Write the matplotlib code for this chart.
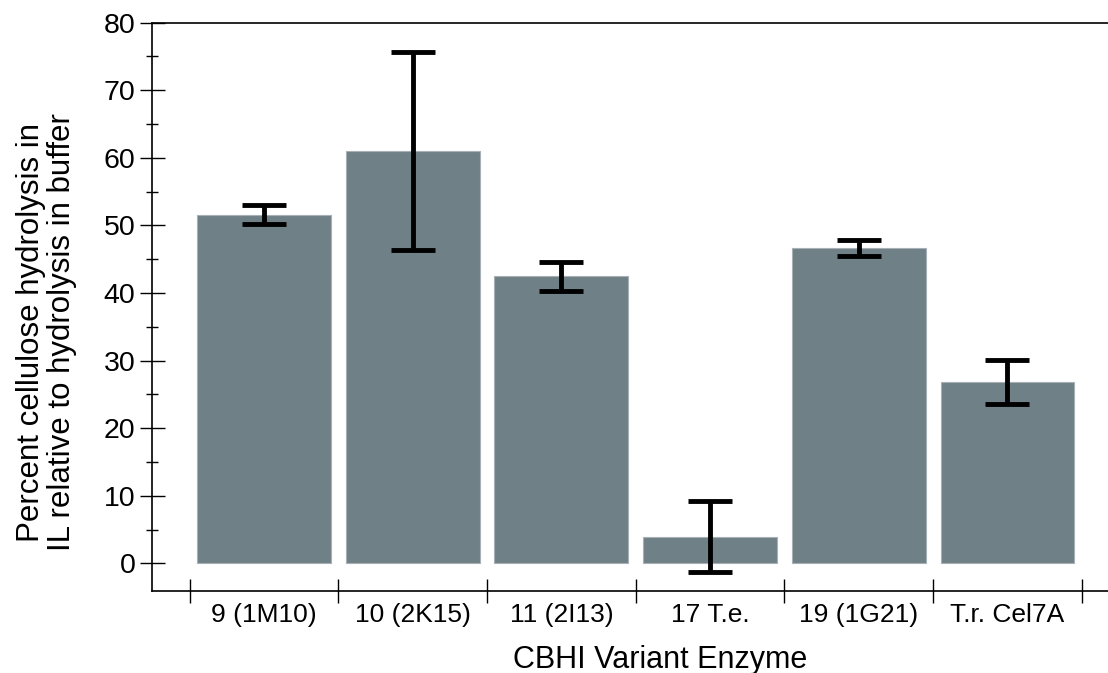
import matplotlib
matplotlib.use("Agg")
import matplotlib.pyplot as plt
import numpy as np
from matplotlib.ticker import MultipleLocator, FixedLocator

categories = ["9 (1M10)", "10 (2K15)", "11 (2I13)", "17 T.e.", "19 (1G21)", "T.r. Cel7A"]
values = [51.6, 61.0, 42.5, 3.9, 46.7, 26.8]
errors = [1.4, 14.7, 2.15, 5.25, 1.2, 3.25]

plt.rcParams['font.family'] = ['Liberation Sans', 'DejaVu Sans']

fig = plt.figure(figsize=(11.08, 6.73), dpi=100)
ax = fig.add_axes([152/1108, 1-590.7/673, 1-152/1108, (590.7-22.7)/673])

x = np.arange(len(categories))
ax.bar(x, values, width=0.9, color='#6f8086', edgecolor='#a7b1b5', linewidth=0.8, zorder=2)
ax.errorbar(x, values, yerr=errors, fmt='none', ecolor='black', elinewidth=3.5,
            capsize=16, capthick=3.5, zorder=3)

ax.set_xlim(-0.753, 5.676)
ax.set_ylim(-4.05, 80)

ax.spines['right'].set_visible(False)
for s in ['left', 'bottom', 'top']:
    ax.spines[s].set_linewidth(1.2)
    ax.spines[s].set_color('black')

ax.set_xticks(x)
ax.set_xticklabels(categories, fontsize=19)
ax.xaxis.set_minor_locator(FixedLocator(np.arange(-0.5, len(categories), 1.0)))
ax.tick_params(axis='x', which='major', length=0, pad=9)
ax.tick_params(axis='x', which='minor', direction='inout', length=17, width=1)

ax.yaxis.set_major_locator(MultipleLocator(10))
ax.yaxis.set_minor_locator(MultipleLocator(5))
ax.tick_params(axis='y', which='major', direction='inout', length=18, width=1, labelsize=20.5, pad=3)
ax.tick_params(axis='y', which='minor', direction='inout', length=8, width=1)

ax.set_xlabel("CBHI Variant Enzyme", fontsize=22, labelpad=12.5)
ax.xaxis.label.set_x(0.531)
ax.set_ylabel("Percent cellulose hydrolysis in\nIL relative to hydrolysis in buffer", fontsize=22.5,
              labelpad=19, linespacing=1.05)
ax.yaxis.label.set_y(0.455)

fig.savefig("out.png", dpi=100)
